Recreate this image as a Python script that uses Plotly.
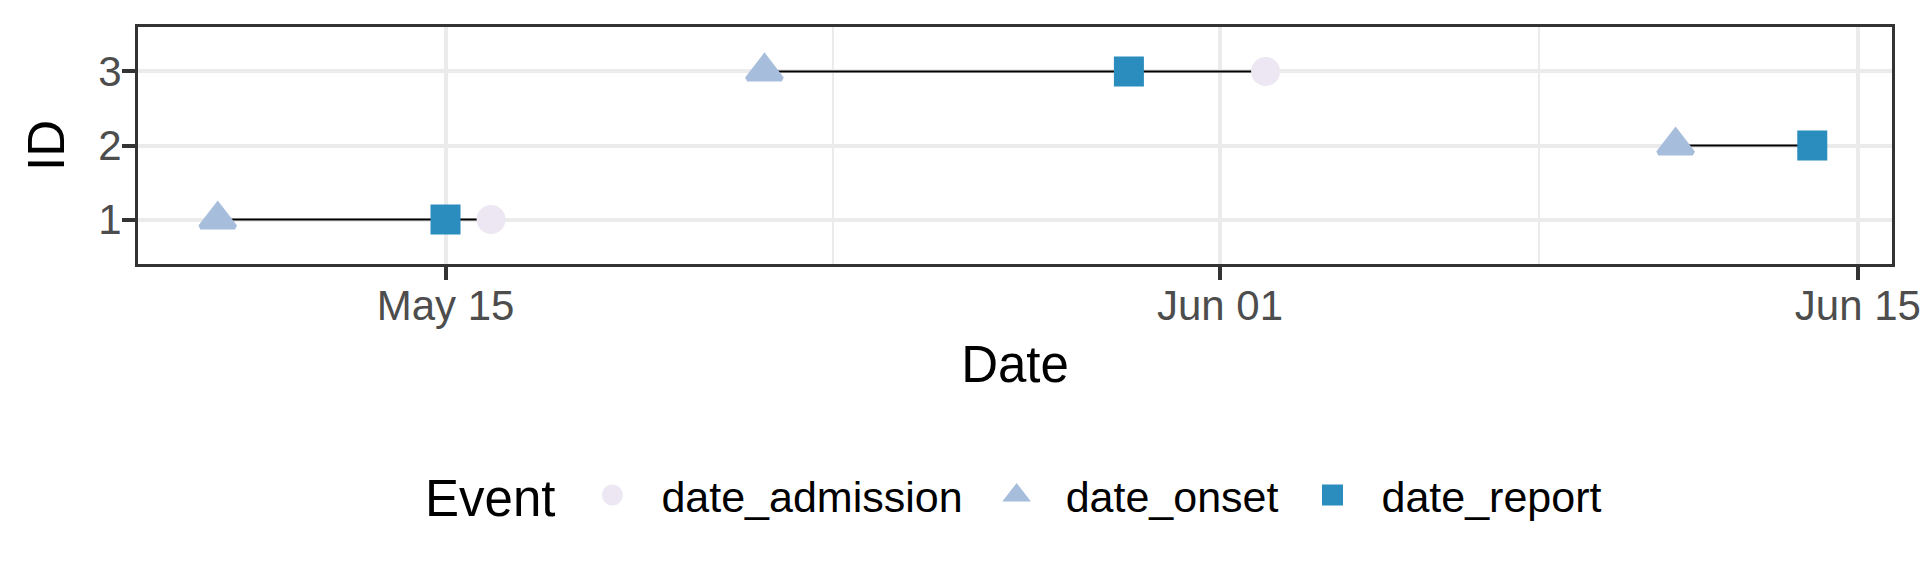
import plotly.graph_objects as go

# ---- data ----
case_id = [1, 2, 3]
date_onset = ["2020-05-10", "2020-06-11", "2020-05-22"]
date_report = ["2020-05-15", "2020-06-14", "2020-05-30"]
date_admission = ["2020-05-16", None, "2020-06-02"]

x_ticks = ["2020-05-15", "2020-06-01", "2020-06-15"]
x_minor = ["2020-05-23 12:00", "2020-06-08"]
x_range = ["2020-05-08 06:00", "2020-06-15 18:00"]
y_ticks = [1, 2, 3]

FONT = "Liberation Sans, Arial, sans-serif"
C_ADM = "#ECE7F2"
C_ONS = "#A6BDDB"
C_REP = "#2B8CBE"
MLW = 5  # marker outline (same colour) - enlarges legend symbols too

# line segments per case (earliest to latest event)
lx, ly = [], []
for i, cid in enumerate(case_id):
    ds = [d for d in (date_onset[i], date_report[i], date_admission[i]) if d]
    ds.sort()
    lx += [ds[0], ds[-1], None]
    ly += [cid, cid, None]

fig = go.Figure()
fig.add_trace(go.Scatter(x=lx, y=ly, mode="lines", line=dict(color="black", width=2),
                         showlegend=False, hoverinfo="skip"))

adm_x = [d for d in date_admission if d]
adm_y = [c for c, d in zip(case_id, date_admission) if d]
fig.add_trace(go.Scatter(x=adm_x, y=adm_y, mode="markers", name="date_admission",
                         marker=dict(symbol="circle", size=24, color=C_ADM,
                                     line=dict(width=MLW, color=C_ADM))))
fig.add_trace(go.Scatter(x=date_onset, y=case_id, mode="markers", name="date_onset",
                         marker=dict(symbol="triangle-up", size=30, color=C_ONS,
                                     line=dict(width=MLW, color=C_ONS))))
fig.add_trace(go.Scatter(x=date_report, y=case_id, mode="markers", name="date_report",
                         marker=dict(symbol="square", size=25, color=C_REP,
                                     line=dict(width=MLW, color=C_REP))))

fig.update_layout(
    width=1920, height=576, autosize=False,
    margin=dict(l=138, r=28, t=27, b=312, autoexpand=False),
    paper_bgcolor="white", plot_bgcolor="white",
    font=dict(family=FONT, color="black"),
    legend=dict(orientation="h", x=0.5, xanchor="center", y=-0.975, yanchor="middle",
                title=dict(text='<span style="font-size:51px">Event</span>',
                           font=dict(size=43, color="black")),
                font=dict(size=43, color="black"), itemwidth=88,
                bgcolor="rgba(0,0,0,0)"),
)
fig.update_xaxes(
    type="date", range=x_range, tickvals=x_ticks, tickformat="%b %d",
    tickfont=dict(size=42, color="#4D4D4D"), ticklabelstandoff=-10,
    ticklabeloverflow="allow",
    ticks="outside", ticklen=13, tickwidth=4, tickcolor="#333333",
    showgrid=True, gridcolor="#EBEBEB", gridwidth=4,
    minor=dict(tickvals=x_minor, showgrid=True, gridcolor="#EBEBEB", gridwidth=2, ticks=""),
    showline=True, linecolor="#333333", linewidth=3, mirror=True, zeroline=False,
    automargin=False,
    title=dict(text="Date", font=dict(size=51, color="black"), standoff=18),
)
fig.update_yaxes(
    range=[0.4, 3.6], tickvals=y_ticks,
    tickfont=dict(size=42, color="#4D4D4D"), ticklabelstandoff=-8,
    ticks="outside", ticklen=13, tickwidth=4, tickcolor="#333333",
    showgrid=True, gridcolor="#EBEBEB", gridwidth=4,
    showline=True, linecolor="#333333", linewidth=3, mirror=True, zeroline=False,
    automargin=False,
    title=dict(text="ID", font=dict(size=51, color="black"), standoff=18),
)

fig.write_html("out.html", config={"displayModeBar": False, "responsive": False},
               post_script="document.body.style.margin='0px';")
